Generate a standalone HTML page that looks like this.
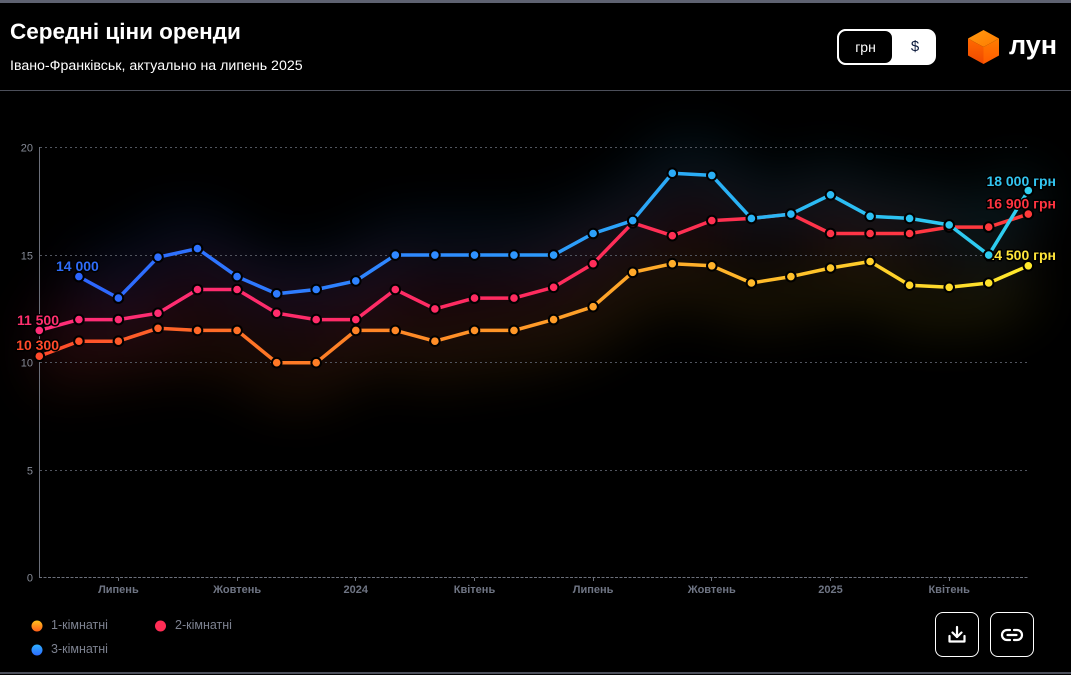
<!DOCTYPE html>
<html>
<head>
<meta charset="utf-8">
<style>
  html,body{margin:0;padding:0;}
  body{width:1071px;height:675px;background:#000;position:relative;overflow:hidden;font-family:"Liberation Sans","DejaVu Sans",sans-serif;}
  .topbar{position:absolute;left:0;top:0;width:1071px;height:3px;background:#5e6271;}
  .sep{position:absolute;left:0;top:90px;width:1071px;height:1px;background:#4c4f5a;}
  .botbar{position:absolute;left:0;top:672px;width:1071px;height:2px;background:#4c4f5a;}
  .title{position:absolute;left:10px;top:19px;font-size:22.5px;font-weight:bold;color:#fff;white-space:nowrap;}
  .sub{position:absolute;left:10px;top:58px;font-size:14.2px;color:#fff;white-space:nowrap;}
  .toggle{position:absolute;left:837px;top:29px;width:99px;height:36px;background:#fff;border-radius:9px;}
  .toggle .on{position:absolute;left:0;top:0;width:57px;height:36px;box-sizing:border-box;border:2px solid #fff;background:#000;border-radius:9px;color:#fff;font-size:14px;text-align:center;line-height:32px;}
  .toggle .off{position:absolute;left:57px;top:0;width:42px;height:36px;color:#0b1a3c;font-size:15px;text-align:center;line-height:36px;}
  .btn{position:absolute;top:612px;width:44px;height:45px;box-sizing:border-box;border:1px solid #fff;border-radius:8px;}
  .leg{position:absolute;font-size:12.5px;color:#7d8290;white-space:nowrap;}
</style>
</head>
<body>
<div class="topbar"></div>
<div class="title">Середні ціни оренди</div>
<div class="sub">Івано-Франківськ, актуально на липень 2025</div>
<div class="toggle"><div class="on">грн</div><div class="off">$</div></div>
<div class="sep"></div>

<svg width="1071" height="675" style="position:absolute;left:0;top:0" xmlns="http://www.w3.org/2000/svg">
  <defs>
    <linearGradient id="gO" gradientUnits="userSpaceOnUse" x1="39" y1="0" x2="1028" y2="0">
      <stop offset="0" stop-color="#ff4a2b"/>
      <stop offset="0.25" stop-color="#ff7a26"/>
      <stop offset="0.5" stop-color="#ff9a28"/>
      <stop offset="0.7" stop-color="#ffb52a"/>
      <stop offset="0.85" stop-color="#ffd02a"/>
      <stop offset="1" stop-color="#ffea2c"/>
    </linearGradient>
    <linearGradient id="gP" gradientUnits="userSpaceOnUse" x1="39" y1="0" x2="1028" y2="0">
      <stop offset="0" stop-color="#ff2d78"/>
      <stop offset="0.5" stop-color="#ff2b5e"/>
      <stop offset="1" stop-color="#ff3a3a"/>
    </linearGradient>
    <linearGradient id="gB" gradientUnits="userSpaceOnUse" x1="39" y1="0" x2="1028" y2="0">
      <stop offset="0" stop-color="#2d62ff"/>
      <stop offset="0.4" stop-color="#2f8cff"/>
      <stop offset="0.7" stop-color="#2ab2f5"/>
      <stop offset="1" stop-color="#2fd0f0"/>
    </linearGradient>
    <linearGradient id="lg1" x1="0" y1="0" x2="0" y2="1">
      <stop offset="0" stop-color="#ffc21f"/><stop offset="1" stop-color="#ff5f1a"/>
    </linearGradient>
    <linearGradient id="lg3" x1="0" y1="0" x2="0" y2="1">
      <stop offset="0" stop-color="#2fb0ff"/><stop offset="1" stop-color="#2d6bff"/>
    </linearGradient>
    <linearGradient id="cubeTop" x1="0" y1="0" x2="1" y2="1">
      <stop offset="0" stop-color="#ff9a10"/><stop offset="1" stop-color="#ff7a00"/>
    </linearGradient>
    <linearGradient id="cubeL" x1="0" y1="0" x2="0" y2="1">
      <stop offset="0" stop-color="#ff6a00"/><stop offset="1" stop-color="#f04800"/>
    </linearGradient>
    <linearGradient id="cubeR" x1="0" y1="0" x2="0" y2="1">
      <stop offset="0" stop-color="#ff7d00"/><stop offset="1" stop-color="#ff5a00"/>
    </linearGradient>
    <filter id="glow" x="-20%" y="-100%" width="140%" height="300%">
      <feGaussianBlur stdDeviation="28"/>
    </filter>
  </defs>

  <!-- logo -->
  <polygon points="983.5,30 999,38.5 983.5,47 968,38.5" fill="url(#cubeTop)"/>
  <polygon points="968,38.5 983.5,47 983.5,64 968,55.5" fill="url(#cubeL)"/>
  <polygon points="983.5,47 999,38.5 999,55.5 983.5,64" fill="url(#cubeR)"/>
  <text x="1009" y="54" font-family="Liberation Sans, DejaVu Sans, sans-serif" font-size="27" font-weight="bold" fill="#fff">лун</text>

  <!-- glow -->
  <g filter="url(#glow)" opacity="0.13" fill="none" stroke-width="40" stroke-linejoin="round">
    <polyline stroke="url(#gO)" transform="translate(0,18)" points="39.3,356.2 78.9,341.2 118.4,341.2 158.0,328.3 197.5,330.4 237.1,330.4 276.7,362.7 316.2,362.7 355.8,330.4 395.3,330.4 434.9,341.2 474.5,330.4 514.0,330.4 553.6,319.6 593.1,306.7 632.7,272.3 672.3,263.7 711.8,265.8 751.4,283.0 790.9,276.6 830.5,268.0 870.1,261.5 909.6,285.2 949.2,287.3 988.7,283.0 1028.3,265.8"/>
    <polyline stroke="url(#gP)" points="39.3,330.4 78.9,319.6 118.4,319.6 158.0,313.2 197.5,289.5 237.1,289.5 276.7,313.2 316.2,319.6 355.8,319.6 395.3,289.5 434.9,308.9 474.5,298.1 514.0,298.1 553.6,287.3 593.1,263.7 632.7,222.8 672.3,235.7 711.8,220.6 751.4,218.4 790.9,214.1 830.5,233.5 870.1,233.5 909.6,233.5 949.2,227.1 988.7,227.1 1028.3,214.1"/>
    <polyline stroke="url(#gB)" transform="translate(0,-12)" points="78.9,276.6 118.4,298.1 158.0,257.2 197.5,248.6 237.1,276.6 276.7,293.8 316.2,289.5 355.8,280.9 395.3,255.05 434.9,255.05 474.5,255.05 514.0,255.05 553.6,255.05 593.1,233.5 632.7,220.6 672.3,173.2 711.8,175.4 751.4,218.4 790.9,214.1 830.5,194.8 870.1,216.3 909.6,218.4 949.2,224.9 988.7,255.05 1028.3,190.5"/>
  </g>

  <!-- grid -->
  <g stroke="#51555f" stroke-width="1" stroke-dasharray="2 3">
    <line x1="40" y1="147.5" x2="1028" y2="147.5"/>
    <line x1="40" y1="255.5" x2="1028" y2="255.5"/>
    <line x1="40" y1="362.5" x2="1028" y2="362.5"/>
    <line x1="40" y1="470.5" x2="1028" y2="470.5"/>
  </g>
  <line x1="39.5" y1="147" x2="39.5" y2="578" stroke="#6b6f7a" stroke-width="1"/>
  <line x1="39" y1="577.5" x2="1028" y2="577.5" stroke="#6b6f7a" stroke-width="1" stroke-dasharray="3 1.5"/>
  <g stroke="#6b6f7a" stroke-width="1">
    <line x1="118.5" y1="578" x2="118.5" y2="581"/>
    <line x1="237.5" y1="578" x2="237.5" y2="581"/>
    <line x1="355.5" y1="578" x2="355.5" y2="581"/>
    <line x1="474.5" y1="578" x2="474.5" y2="581"/>
    <line x1="593.5" y1="578" x2="593.5" y2="581"/>
    <line x1="711.5" y1="578" x2="711.5" y2="581"/>
    <line x1="830.5" y1="578" x2="830.5" y2="581"/>
    <line x1="949.5" y1="578" x2="949.5" y2="581"/>
  </g>
  <g font-family="Liberation Sans, DejaVu Sans, sans-serif" font-size="11" fill="#868b97" text-anchor="end">
    <text x="33" y="151.5">20</text>
    <text x="33" y="259.5">15</text>
    <text x="33" y="366.5">10</text>
    <text x="33" y="474.5">5</text>
    <text x="33" y="581.5">0</text>
  </g>
  <g font-family="Liberation Sans, DejaVu Sans, sans-serif" font-size="11" font-weight="bold" fill="#6f7584" text-anchor="middle">
    <text x="118.4" y="593">Липень</text>
    <text x="237.1" y="593">Жовтень</text>
    <text x="355.8" y="593">2024</text>
    <text x="474.5" y="593">Квітень</text>
    <text x="593.1" y="593">Липень</text>
    <text x="711.8" y="593">Жовтень</text>
    <text x="830.5" y="593">2025</text>
    <text x="949.2" y="593">Квітень</text>
  </g>

  <!-- orange series -->
  <polyline fill="none" stroke="url(#gO)" stroke-width="3.5" stroke-linejoin="round" points="39.3,356.2 78.9,341.2 118.4,341.2 158.0,328.3 197.5,330.4 237.1,330.4 276.7,362.7 316.2,362.7 355.8,330.4 395.3,330.4 434.9,341.2 474.5,330.4 514.0,330.4 553.6,319.6 593.1,306.7 632.7,272.3 672.3,263.7 711.8,265.8 751.4,283.0 790.9,276.6 830.5,268.0 870.1,261.5 909.6,285.2 949.2,287.3 988.7,283.0 1028.3,265.8"/>
  <g fill="url(#gO)" stroke="#000" stroke-width="2">
    <circle cx="39.3" cy="356.2" r="4.8"/><circle cx="78.9" cy="341.2" r="4.8"/><circle cx="118.4" cy="341.2" r="4.8"/><circle cx="158.0" cy="328.3" r="4.8"/><circle cx="197.5" cy="330.4" r="4.8"/><circle cx="237.1" cy="330.4" r="4.8"/><circle cx="276.7" cy="362.7" r="4.8"/><circle cx="316.2" cy="362.7" r="4.8"/><circle cx="355.8" cy="330.4" r="4.8"/><circle cx="395.3" cy="330.4" r="4.8"/><circle cx="434.9" cy="341.2" r="4.8"/><circle cx="474.5" cy="330.4" r="4.8"/><circle cx="514.0" cy="330.4" r="4.8"/><circle cx="553.6" cy="319.6" r="4.8"/><circle cx="593.1" cy="306.7" r="4.8"/><circle cx="632.7" cy="272.3" r="4.8"/><circle cx="672.3" cy="263.7" r="4.8"/><circle cx="711.8" cy="265.8" r="4.8"/><circle cx="751.4" cy="283.0" r="4.8"/><circle cx="790.9" cy="276.6" r="4.8"/><circle cx="830.5" cy="268.0" r="4.8"/><circle cx="870.1" cy="261.5" r="4.8"/><circle cx="909.6" cy="285.2" r="4.8"/><circle cx="949.2" cy="287.3" r="4.8"/><circle cx="988.7" cy="283.0" r="4.8"/><circle cx="1028.3" cy="265.8" r="4.8"/>
  </g>
  <g font-family="Liberation Sans, DejaVu Sans, sans-serif" font-size="14" font-weight="bold" stroke="#000" stroke-width="3" paint-order="stroke" stroke-linejoin="round">
    <text x="59" y="350" text-anchor="end" fill="#ff4a2a">10 300</text>
    <text x="1056" y="260" text-anchor="end" fill="#ffe53a">14 500 грн</text>
  </g>

  <!-- pink series -->
  <polyline fill="none" stroke="url(#gP)" stroke-width="3.5" stroke-linejoin="round" points="39.3,330.4 78.9,319.6 118.4,319.6 158.0,313.2 197.5,289.5 237.1,289.5 276.7,313.2 316.2,319.6 355.8,319.6 395.3,289.5 434.9,308.9 474.5,298.1 514.0,298.1 553.6,287.3 593.1,263.7 632.7,222.8 672.3,235.7 711.8,220.6 751.4,218.4 790.9,214.1 830.5,233.5 870.1,233.5 909.6,233.5 949.2,227.1 988.7,227.1 1028.3,214.1"/>
  <g fill="url(#gP)" stroke="#000" stroke-width="2">
    <circle cx="39.3" cy="330.4" r="4.8"/><circle cx="78.9" cy="319.6" r="4.8"/><circle cx="118.4" cy="319.6" r="4.8"/><circle cx="158.0" cy="313.2" r="4.8"/><circle cx="197.5" cy="289.5" r="4.8"/><circle cx="237.1" cy="289.5" r="4.8"/><circle cx="276.7" cy="313.2" r="4.8"/><circle cx="316.2" cy="319.6" r="4.8"/><circle cx="355.8" cy="319.6" r="4.8"/><circle cx="395.3" cy="289.5" r="4.8"/><circle cx="434.9" cy="308.9" r="4.8"/><circle cx="474.5" cy="298.1" r="4.8"/><circle cx="514.0" cy="298.1" r="4.8"/><circle cx="553.6" cy="287.3" r="4.8"/><circle cx="593.1" cy="263.7" r="4.8"/><circle cx="632.7" cy="222.8" r="4.8"/><circle cx="672.3" cy="235.7" r="4.8"/><circle cx="711.8" cy="220.6" r="4.8"/><circle cx="751.4" cy="218.4" r="4.8"/><circle cx="790.9" cy="214.1" r="4.8"/><circle cx="830.5" cy="233.5" r="4.8"/><circle cx="870.1" cy="233.5" r="4.8"/><circle cx="909.6" cy="233.5" r="4.8"/><circle cx="949.2" cy="227.1" r="4.8"/><circle cx="988.7" cy="227.1" r="4.8"/><circle cx="1028.3" cy="214.1" r="4.8"/>
  </g>

  <!-- blue series -->
  <polyline fill="none" stroke="url(#gB)" stroke-width="3.5" stroke-linejoin="round" points="78.9,276.6 118.4,298.1 158.0,257.2 197.5,248.6 237.1,276.6 276.7,293.8 316.2,289.5 355.8,280.9 395.3,255.05 434.9,255.05 474.5,255.05 514.0,255.05 553.6,255.05 593.1,233.5 632.7,220.6 672.3,173.2 711.8,175.4 751.4,218.4 790.9,214.1 830.5,194.8 870.1,216.3 909.6,218.4 949.2,224.9 988.7,255.05 1028.3,190.5"/>
  <g fill="url(#gB)" stroke="#000" stroke-width="2">
    <circle cx="78.9" cy="276.6" r="4.8"/><circle cx="118.4" cy="298.1" r="4.8"/><circle cx="158.0" cy="257.2" r="4.8"/><circle cx="197.5" cy="248.6" r="4.8"/><circle cx="237.1" cy="276.6" r="4.8"/><circle cx="276.7" cy="293.8" r="4.8"/><circle cx="316.2" cy="289.5" r="4.8"/><circle cx="355.8" cy="280.9" r="4.8"/><circle cx="395.3" cy="255.05" r="4.8"/><circle cx="434.9" cy="255.05" r="4.8"/><circle cx="474.5" cy="255.05" r="4.8"/><circle cx="514.0" cy="255.05" r="4.8"/><circle cx="553.6" cy="255.05" r="4.8"/><circle cx="593.1" cy="233.5" r="4.8"/><circle cx="632.7" cy="220.6" r="4.8"/><circle cx="672.3" cy="173.2" r="4.8"/><circle cx="711.8" cy="175.4" r="4.8"/><circle cx="751.4" cy="218.4" r="4.8"/><circle cx="790.9" cy="214.1" r="4.8"/><circle cx="830.5" cy="194.8" r="4.8"/><circle cx="870.1" cy="216.3" r="4.8"/><circle cx="909.6" cy="218.4" r="4.8"/><circle cx="949.2" cy="224.9" r="4.8"/><circle cx="988.7" cy="255.05" r="4.8"/><circle cx="1028.3" cy="190.5" r="4.8"/>
  </g>

  <g font-family="Liberation Sans, DejaVu Sans, sans-serif" font-size="14" font-weight="bold" stroke="#000" stroke-width="3" paint-order="stroke" stroke-linejoin="round">
    <text x="59" y="325" text-anchor="end" fill="#ff2f6e">11 500</text>
    <text x="56" y="271" fill="#2f6cf7">14 000</text>
    <text x="1056" y="208.5" text-anchor="end" fill="#ff3440">16 900 грн</text>
    <text x="1056" y="186" text-anchor="end" fill="#33c5f0">18 000 грн</text>
  </g>

  <!-- legend dots -->
  <circle cx="37" cy="626" r="5.5" fill="url(#lg1)"/>
  <circle cx="160.5" cy="626" r="5.5" fill="#ff2d55"/>
  <circle cx="37" cy="650" r="5.5" fill="url(#lg3)"/>

  <!-- button icons -->
  <g fill="none" stroke="#fff" stroke-width="2.2" stroke-linecap="round" stroke-linejoin="round">
    <line x1="957" y1="627" x2="957" y2="637"/>
    <polyline points="952.5,632.5 957,637 961.5,632.5"/>
    <polyline points="949.5,636 949.5,641.5 964.5,641.5 964.5,636"/>
    <path d="M1010,630 H1007 A5,5 0 0 0 1007,640 H1010"/>
    <path d="M1014,630 H1017 A5,5 0 0 1 1017,640 H1014"/>
    <line x1="1007.5" y1="635" x2="1016.5" y2="635"/>
  </g>
</svg>

<div class="leg" style="left:51px;top:618px;">1-кімнатні</div>
<div class="leg" style="left:175px;top:618px;">2-кімнатні</div>
<div class="leg" style="left:51px;top:642px;">3-кімнатні</div>

<div class="btn" style="left:935px;"></div>
<div class="btn" style="left:990px;"></div>
<div class="botbar"></div>
</body>
</html>
